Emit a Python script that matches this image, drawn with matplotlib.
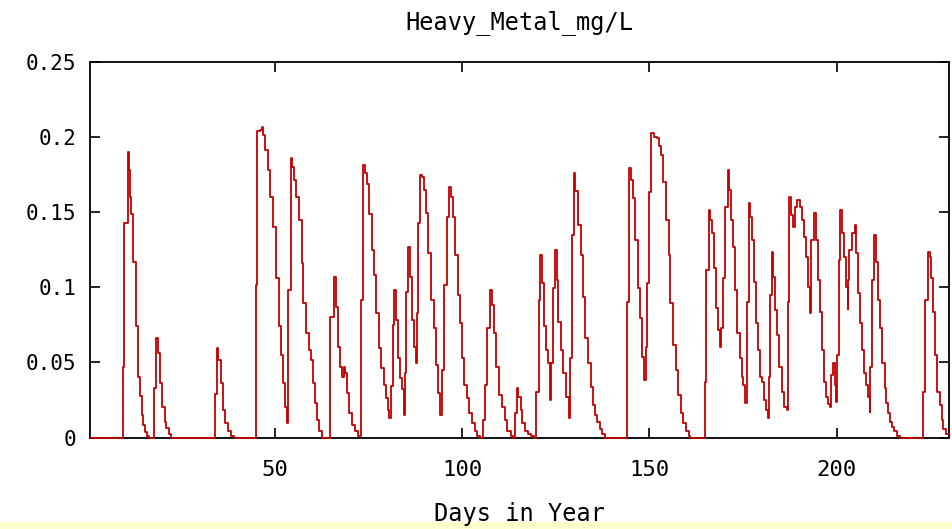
import matplotlib
matplotlib.use("Agg")
import matplotlib.pyplot as plt
from matplotlib.patches import Rectangle

# breakpoints of the step series: day where the value changes, new value (mg/L)
day = [
    1.0, 9.4, 9.8, 10.75, 11.0, 11.3, 11.6, 12.2, 12.9, 13.5, 13.9, 14.4, 14.8, 15.3, 15.8, 16.3,
    17.6, 18.35, 18.7, 19.2, 19.8, 20.5, 21.0, 21.6, 22.3,
    33.9, 34.4, 34.8, 35.5, 36.1, 36.7, 37.5, 38.2, 39.0,
    44.9, 45.3, 46.0, 46.4, 46.9, 47.4, 48.1, 48.8, 49.6, 50.3, 51.0, 51.6, 52.1, 52.6, 53.1,
    53.6, 54.2, 54.5, 55.2, 55.7, 56.4, 57.1, 57.6, 58.3, 59.0, 59.5, 60.1, 60.6, 61.1, 61.8, 62.5,
    64.7, 65.8, 66.2, 66.7, 67.4, 67.9, 68.3, 68.8, 69.3, 69.9, 70.6, 71.3, 72.2,
    72.9, 73.6, 74.0, 74.5, 75.2, 75.9, 76.4, 77.0, 77.7, 78.4, 79.1, 79.6, 80.2, 80.5,
    80.9, 81.4, 81.9, 82.3, 82.8, 83.4, 83.9, 84.5,
    84.7, 85.1, 85.6, 86.0, 86.5, 87.1, 87.6,
    87.8, 88.3, 88.8, 89.2, 89.7, 90.2, 90.9, 91.6, 92.4, 93.1, 93.6, 94.2,
    94.7, 95.2, 95.9, 96.6, 97.0, 97.5, 98.1, 98.8, 99.3, 99.9, 100.6, 101.3, 101.8, 102.6,
    103.3, 104.0, 104.8,
    105.5, 106.0, 106.5, 107.5, 107.9, 108.4, 109.1, 109.8, 110.5, 111.3, 112.0, 112.9, 113.6,
    114.0, 114.5, 114.9, 115.6, 116.1, 116.8, 117.7, 118.4, 119.3,
    119.7, 120.4, 120.9, 121.3, 121.8, 122.4, 122.9, 123.4,
    123.8, 124.3, 124.8, 125.2, 125.7, 126.4, 127.0, 127.7, 128.4,
    128.8, 129.3, 129.8, 130.2, 130.9, 131.6, 132.3, 132.9, 133.6, 134.3, 134.8, 135.5, 136.0,
    136.7, 137.3, 138.0,
    144.1, 144.6, 145.1, 145.6, 146.2, 146.9, 147.6, 148.1, 148.6,
    149.0, 149.4, 149.9, 150.4, 151.1, 151.9, 152.6, 153.2, 153.7, 154.4, 155.1, 155.6, 156.4,
    157.1, 157.6, 158.3, 159.0, 159.7, 160.5, 160.9,
    164.9, 165.2, 165.9, 166.2, 166.7, 167.2, 167.8, 168.3, 168.8,
    169.2, 169.7, 170.2, 170.9, 171.3, 171.8, 172.3, 172.8, 173.4, 174.1, 174.6, 175.1, 175.6,
    176.1, 176.5, 176.9, 177.4, 177.9, 178.4, 179.0, 179.5, 180.0, 180.6, 181.1, 181.6,
    181.9, 182.1, 182.7, 183.0, 183.5, 184.1, 184.6, 185.3, 186.0, 186.7,
    186.9, 187.4, 187.8, 188.3, 188.8, 189.3, 189.7, 190.2, 190.8, 191.3, 191.8, 192.4, 192.9,
    193.2, 193.9, 194.4, 195.0, 195.5, 196.0, 196.6, 197.1, 197.6, 198.2,
    198.5, 199.1, 199.6, 199.9,
    200.1, 200.5, 201.0, 201.3, 201.9, 202.4, 202.9,
    203.1, 203.4, 204.1, 204.8, 205.2, 205.7, 206.2, 206.8, 207.3, 207.8, 208.4, 208.9,
    209.0, 209.4, 210.1, 210.4, 211.0, 211.5, 212.2, 212.8, 213.3, 213.8, 214.3, 214.9, 215.4,
    216.1, 217.0,
    223.0, 223.6, 224.3, 224.8, 225.2, 225.7, 226.2, 226.8, 227.5, 228.0, 228.5, 229.2, 230.0,
]
heavy_metal = [
    0.0, 0.047, 0.143, 0.1905, 0.178, 0.16, 0.149, 0.117, 0.074, 0.0405, 0.0277, 0.015, 0.0083, 0.0039, 0.001, 0.0,
    0.0328, 0.066, 0.056, 0.036, 0.0205, 0.0105, 0.0061, 0.0025, 0.0,
    0.029, 0.0594, 0.0517, 0.036, 0.0183, 0.0095, 0.004, 0.001, 0.0,
    0.1017, 0.204, 0.205, 0.207, 0.2017, 0.1917, 0.178, 0.1605, 0.1405, 0.106, 0.074, 0.055, 0.036, 0.0205, 0.0095,
    0.098, 0.186, 0.1805, 0.1717, 0.1605, 0.145, 0.116, 0.0895, 0.0695, 0.0583, 0.0517, 0.036, 0.0228, 0.0117, 0.004, 0.0,
    0.0805, 0.107, 0.087, 0.0605, 0.047, 0.0405, 0.047, 0.043, 0.0295, 0.0161, 0.0083, 0.004, 0.001,
    0.0917, 0.1817, 0.176, 0.169, 0.149, 0.125, 0.108, 0.083, 0.0595, 0.046, 0.035, 0.026, 0.018, 0.0128,
    0.034, 0.075, 0.0983, 0.0783, 0.053, 0.0395, 0.032, 0.015,
    0.0428, 0.097, 0.127, 0.107, 0.078, 0.0605, 0.0495,
    0.083, 0.143, 0.175, 0.1733, 0.165, 0.1495, 0.123, 0.0917, 0.073, 0.048, 0.0295, 0.015,
    0.045, 0.1017, 0.147, 0.167, 0.16, 0.147, 0.1217, 0.095, 0.076, 0.053, 0.035, 0.026, 0.016, 0.0095,
    0.0045, 0.001, 0.0,
    0.0117, 0.035, 0.073, 0.098, 0.088, 0.0695, 0.047, 0.0283, 0.0205, 0.0117, 0.0045, 0.001, 0.0,
    0.016, 0.0328, 0.027, 0.0183, 0.0095, 0.0045, 0.002, 0.001, 0.0,
    0.0305, 0.0917, 0.1217, 0.103, 0.074, 0.0583, 0.0495, 0.025,
    0.0495, 0.0995, 0.125, 0.105, 0.077, 0.0583, 0.0428, 0.027, 0.0128,
    0.053, 0.135, 0.176, 0.164, 0.1417, 0.1217, 0.0939, 0.0661, 0.0495, 0.0339, 0.0217, 0.015, 0.0105,
    0.0055, 0.002, 0.0,
    0.0906, 0.1795, 0.1717, 0.1595, 0.1317, 0.0995, 0.0795, 0.0539, 0.0383,
    0.0605, 0.1028, 0.1639, 0.2028, 0.2, 0.1995, 0.194, 0.188, 0.1705, 0.145, 0.1217, 0.0895, 0.0617,
    0.045, 0.0283, 0.0161, 0.0095, 0.004, 0.001, 0.0,
    0.0372, 0.1117, 0.1517, 0.145, 0.136, 0.1128, 0.0861, 0.0717, 0.0605,
    0.0728, 0.1061, 0.1539, 0.1783, 0.165, 0.145, 0.1272, 0.0983, 0.0695, 0.0528, 0.0405, 0.035, 0.0228,
    0.0906, 0.1561, 0.147, 0.1317, 0.1039, 0.0761, 0.0583, 0.0405, 0.0372, 0.025, 0.018, 0.0128,
    0.0405, 0.095, 0.1239, 0.1072, 0.085, 0.0683, 0.0472, 0.0306, 0.02, 0.0183,
    0.0906, 0.1605, 0.1483, 0.1405, 0.1539, 0.1583, 0.1583, 0.1539, 0.145, 0.1339, 0.1205, 0.1005, 0.0828,
    0.1317, 0.1495, 0.1317, 0.105, 0.0839, 0.0583, 0.0372, 0.0272, 0.022, 0.0205,
    0.0417, 0.0495, 0.035, 0.0239,
    0.055, 0.1183, 0.1517, 0.1361, 0.1205, 0.1005, 0.0856,
    0.105, 0.125, 0.1361, 0.1417, 0.1228, 0.0961, 0.0761, 0.0583, 0.0428, 0.035, 0.0272, 0.0172,
    0.0472, 0.105, 0.135, 0.1172, 0.0917, 0.0728, 0.0495, 0.0328, 0.0228, 0.0161, 0.0105, 0.0072, 0.004,
    0.001, 0.0,
    0.0306, 0.0917, 0.1239, 0.1205, 0.1061, 0.0839, 0.055, 0.0306, 0.0217, 0.0117, 0.0055, 0.002, 0.002,
]
y_ticks = [0, 0.05, 0.1, 0.15, 0.2, 0.25]
y_labels = ["0", "0.05", "0.1", "0.15", "0.2", "0.25"]
x_ticks = [50, 100, 150, 200]

plt.rcParams['font.family'] = ['DejaVu Sans Mono']

fig = plt.figure(figsize=(9.52, 5.29), dpi=100)
fig.patches.append(Rectangle((0, 0), 1, 7 / 529, transform=fig.transFigure,
                             facecolor='#ffffcc', edgecolor='none', zorder=-1))
ax = fig.add_axes([90 / 952, (529 - 437.5) / 529, 859 / 952, 375.2 / 529])

ax.plot(day, heavy_metal, drawstyle='steps-post', color='#c00000', lw=1.3,
        clip_on=False, zorder=3)

ax.set_xlim(0.6, 230)
ax.set_ylim(0, 0.25)
ax.set_xticks(x_ticks)
ax.set_yticks(y_ticks)
ax.set_yticklabels(y_labels)
ax.tick_params(direction='in', length=7, width=1.2, top=True, right=True,
               colors='black')
ax.tick_params(axis='x', pad=16, labelsize=16)
ax.tick_params(axis='y', pad=10, labelsize=15)
for s in ax.spines.values():
    s.set_linewidth(1.3)

ax.set_title('Heavy_Metal_mg/L', fontsize=17, pad=24)
ax.set_xlabel('Days in Year', fontsize=17, labelpad=16)

fig.savefig('out.png', dpi=100)
